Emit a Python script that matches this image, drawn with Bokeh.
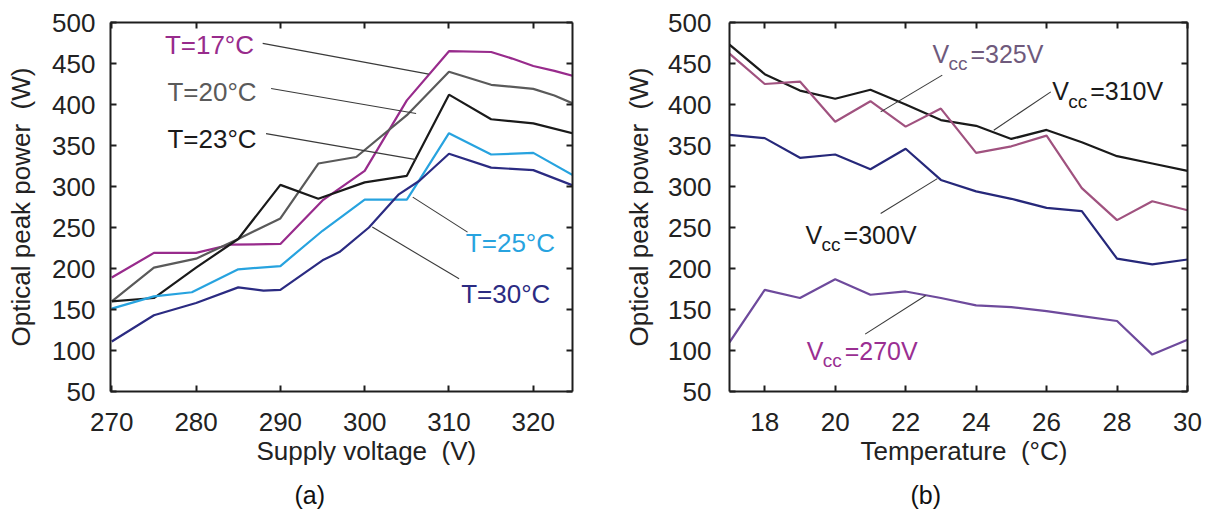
from bokeh.plotting import figure
from bokeh.layouts import row
from bokeh.models import LinearAxis, FixedTicker, Range1d, Title
from bokeh.embed import file_html
from bokeh.resources import INLINE
from bokeh.core.properties import value

FONT = "Liberation Sans"

# ---------------- data: panel (a) ----------------
volt_ticks = [270, 280, 290, 300, 310, 320]
power_ticks = [50, 100, 150, 200, 250, 300, 350, 400, 450, 500]

t17_x = [270, 275, 280, 284, 290, 295, 300, 305, 310, 315, 317.5, 320, 322.5, 325]
t17_y = [189, 219, 219, 229, 230, 283, 319, 405, 465, 464, 456, 447, 441, 434]
t20_x = [270, 275, 280, 285, 290, 294.5, 299, 305, 310, 315, 320, 322.5, 325]
t20_y = [160, 201, 212, 236, 261, 328, 336, 387, 440, 424, 419, 411, 400]
t23_x = [270, 275, 280, 285, 290, 294.5, 300, 305, 310, 315, 320, 325]
t23_y = [160, 164, 201, 236, 302, 285, 305, 313, 412, 382, 377, 364]
t25_x = [270, 275, 279.5, 285, 290, 295, 300, 305, 306.5, 310, 315, 320, 325]
t25_y = [151, 166, 171, 199, 203, 246, 284, 284, 308, 365, 339, 341, 312]
t30_x = [270, 275, 280, 285, 288, 290, 295, 297, 300.5, 304, 306.5, 310, 315, 320, 325]
t30_y = [111, 143, 158, 177, 173, 174, 210, 220, 250, 290, 307, 340, 323, 320, 300]

a_labels = ["T=17°C", "T=20°C", "T=23°C", "T=25°C", "T=30°C"]
a_label_x = [276.3, 276.6, 276.6, 312.0, 311.45]
a_label_y = [472.4, 415.4, 358.4, 230.6, 169.5]
a_lead_x0 = [287.9, 288.9, 288.3, 305.7, 300.9]
a_lead_y0 = [474.5, 419.5, 364.5, 287.0, 250.5]
a_lead_x1 = [307.6, 306.1, 306.1, 312.2, 311.2]
a_lead_y1 = [437.0, 389.0, 332.8, 244.4, 187.4]

# ---------------- data: panel (b) ----------------
temps = [17, 18, 19, 20, 21, 22, 23, 24, 25, 26, 27, 28, 29, 30]
temp_ticks = [18, 20, 22, 24, 26, 28, 30]
v310 = [473, 437, 417, 407, 418, 400, 381, 374, 358, 369, 354, 337, 328, 319]
v325 = [462, 425, 428, 379, 404, 373, 395, 341, 349, 362, 298, 259, 282, 271]
v300 = [363, 359, 335, 339, 321, 346, 308, 294, 285, 274, 270, 212, 205, 211]
v270 = [110, 174, 164, 187, 168, 172, 164, 155, 153, 148, 142, 136, 95, 113]

b_label_rest = ["=325V", "=310V", "=300V", "=270V"]
b_label_x = [22.76, 26.16, 19.16, 19.19]
b_label_y = [461.6, 416.4, 241.0, 100.0]
b_lead_x0 = [23.04, 26.12, 21.29, 20.85]
b_lead_y0 = [435.8, 415.4, 267.0, 120.0]
b_lead_x1 = [21.29, 24.50, 22.90, 22.57]
b_lead_y1 = [391.0, 368.6, 309.6, 167.0]

AX = "#1e1e1e"
TXT = "#222222"
FS = "26px"


def style_axis(ax, ticks, labels=True, standoff=14):
    ax.ticker = FixedTicker(ticks=ticks)
    ax.major_tick_in = 6
    ax.major_tick_out = 0
    ax.minor_tick_in = 0
    ax.minor_tick_out = 0
    ax.axis_line_width = 2
    ax.axis_line_color = AX
    ax.major_tick_line_width = 2
    ax.major_tick_line_color = AX
    ax.major_label_text_font = FONT
    ax.major_label_text_font_size = FS
    ax.major_label_text_color = TXT
    ax.major_label_standoff = standoff
    if not labels:
        ax.major_label_text_font_size = "0px"
        ax.major_label_text_color = None
        ax.major_label_standoff = 0


def make_fig(xr, width, bl, br, xticks, ylab, xlab, xlab_left, tag, tag_left, ystand, ylstand):
    p = figure(width=width, height=531, x_range=Range1d(*xr), y_range=Range1d(50, 500),
               output_backend="svg", toolbar_location=None,
               min_border_left=bl, min_border_right=br, min_border_top=22,
               min_border_bottom=140)
    p.grid.visible = False
    p.outline_line_color = None
    style_axis(p.xaxis[0], xticks, standoff=21)
    style_axis(p.yaxis[0], power_ticks, standoff=ystand)
    p.yaxis[0].axis_label = ylab
    p.yaxis[0].axis_label_text_font = FONT
    p.yaxis[0].axis_label_text_font_size = FS
    p.yaxis[0].axis_label_text_font_style = "normal"
    p.yaxis[0].axis_label_text_color = TXT
    p.yaxis[0].axis_label_standoff = ylstand
    top = LinearAxis()
    style_axis(top, xticks, labels=False)
    p.add_layout(top, "above")
    right = LinearAxis()
    style_axis(right, power_ticks, labels=False)
    p.add_layout(right, "right")
    t1 = Title(text=xlab, align="left", offset=xlab_left, text_font=FONT,
               text_font_size=FS, text_font_style="normal", text_color=TXT, standoff=0)
    p.add_layout(t1, "below")
    t2 = Title(text=tag, align="left", offset=tag_left, text_font=FONT,
               text_font_size="25px", text_font_style="normal", text_color="#111111", standoff=26)
    p.add_layout(t2, "below")
    return p


# ---------------- panel (a) ----------------
pa = make_fig((269.85, 324.65), 607, 110, 35, volt_ticks,
              "Optical peak power \u00a0(W)", "Supply voltage \u00a0(V)", 146, "(a)", 184, 15, 13)

a_colors = ["#982b8c", "#5a5a5a", "#1a1a1a", "#27a3df", "#2b2b82"]
for xs, ys, c in zip([t17_x, t20_x, t23_x, t25_x, t30_x],
                     [t17_y, t20_y, t23_y, t25_y, t30_y], a_colors):
    pa.line(xs, ys, line_color=c, line_width=2.2)

pa.segment(a_lead_x0, a_lead_y0, a_lead_x1, a_lead_y1, line_color="#3a3a3a", line_width=1.1)
pa.text(a_label_x, a_label_y, text=a_labels, text_color=a_colors,
        text_font=value(FONT), text_font_size=FS,
        text_align="left", text_baseline="middle")

# ---------------- panel (b) ----------------
pb = make_fig((17, 30), 608, 122, 28, temp_ticks,
              "Optical peak power \u00a0(W)", "Temperature \u00a0(°C)", 131, "(b)", 181, 18, 11)

pb.line(temps, v310, line_color="#1a1a1a", line_width=2.2)
pb.line(temps, v325, line_color="#a0527f", line_width=2.2)
pb.line(temps, v300, line_color="#26287a", line_width=2.2)
pb.line(temps, v270, line_color="#6e4a9c", line_width=2.2)

pb.segment(b_lead_x0, b_lead_y0, b_lead_x1, b_lead_y1, line_color="#3a3a3a", line_width=1.1)
b_text_colors = ["#6f5a7c", "#1a1a1a", "#1a1a1a", "#9a2f92"]
pb.text(b_label_x, b_label_y, text=["V"] * 4, text_color=b_text_colors,
        text_font=value(FONT), text_font_size="25px",
        text_align="left", text_baseline="middle")
pb.text(b_label_x, b_label_y, text=["cc"] * 4, text_color=b_text_colors,
        text_font=value(FONT), text_font_size="19px",
        text_align="left", text_baseline="middle", x_offset=16, y_offset=10)
pb.text(b_label_x, b_label_y, text=b_label_rest, text_color=b_text_colors,
        text_font=value(FONT), text_font_size="25px",
        text_align="left", text_baseline="middle", x_offset=38)

layout = row(pa, pb)
open("out.html", "w").write(file_html(layout, INLINE))
